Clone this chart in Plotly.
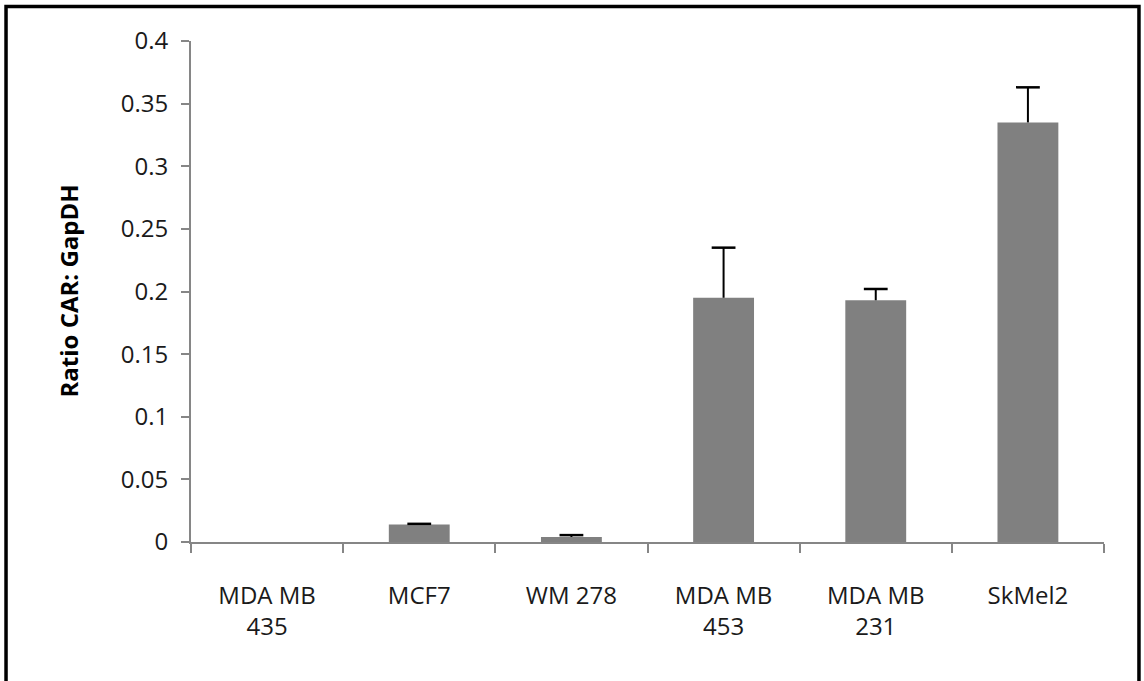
import plotly.graph_objects as go

categories = ["MDA MB<br>435", "MCF7", "WM 278", "MDA MB<br>453", "MDA MB<br>231", "SkMel2"]
ratio = [0.0, 0.014, 0.004, 0.195, 0.193, 0.335]
err_plus = [0.0, 0.0005, 0.0015, 0.040, 0.009, 0.028]
err_minus = [0, 0, 0, 0, 0, 0]
y_ticks = [0, 0.05, 0.1, 0.15, 0.2, 0.25, 0.3, 0.35, 0.4]
y_labels = ["0", "0.05", "0.1", "0.15", "0.2", "0.25", "0.3", "0.35", "0.4"]

FONT = "Open Sans"
AXIS = "#868686"

cap_y = [v + e if e > 0 else None for v, e in zip(ratio, err_plus)]

fig = go.Figure()
fig.add_trace(go.Bar(
    x=categories,
    y=ratio,
    marker=dict(color="#808080", line=dict(width=0)),
    error_y=dict(type="data", symmetric=False, array=err_plus, arrayminus=err_minus,
                 color="black", thickness=2, width=0),
    showlegend=False,
))
fig.add_trace(go.Scatter(
    x=categories, y=cap_y, mode="markers",
    marker=dict(symbol="line-ew-open", size=17, color="black",
                line=dict(color="black", width=2.5)),
    showlegend=False, hoverinfo="skip",
))

fig.update_layout(
    width=1144, height=681,
    margin=dict(l=191, r=40, t=41, b=139),
    paper_bgcolor="white", plot_bgcolor="white",
    font=dict(family=FONT, size=24, color="#1a1a1a"),
    bargap=0.6,
    xaxis=dict(
        type="category",
        showline=True, linecolor=AXIS, linewidth=2,
        ticks="outside", tickson="boundaries", ticklen=9, tickwidth=1.5, tickcolor=AXIS,
        showgrid=False, zeroline=False,
        tickfont=dict(size=24),
        ticklabelstandoff=31,
    ),
    yaxis=dict(
        range=[0, 0.4], tickvals=y_ticks, ticktext=y_labels,
        showline=True, linecolor=AXIS, linewidth=2,
        ticks="outside", ticklen=8, tickwidth=1.5, tickcolor=AXIS,
        showgrid=False, zeroline=False,
        tickfont=dict(size=24),
        ticklabelstandoff=8,
    ),
    annotations=[dict(
        text="<b>Ratio CAR: GapDH</b>", xref="paper", yref="paper",
        x=-0.1347, y=0.5, xanchor="center", yanchor="middle",
        textangle=-90, showarrow=False, font=dict(family=FONT, size=24, color="black"),
    )],
    shapes=[dict(
        type="rect", xref="paper", yref="paper",
        x0=-0.2026, x1=1.0383, y0=-0.30, y1=1.0689,
        line=dict(color="black", width=3.5), fillcolor="rgba(0,0,0,0)", layer="above",
    )],
)

fig.write_html("out.html", config={"displayModeBar": False},
               post_script="document.body.style.margin='0';document.body.style.overflow='hidden';")
